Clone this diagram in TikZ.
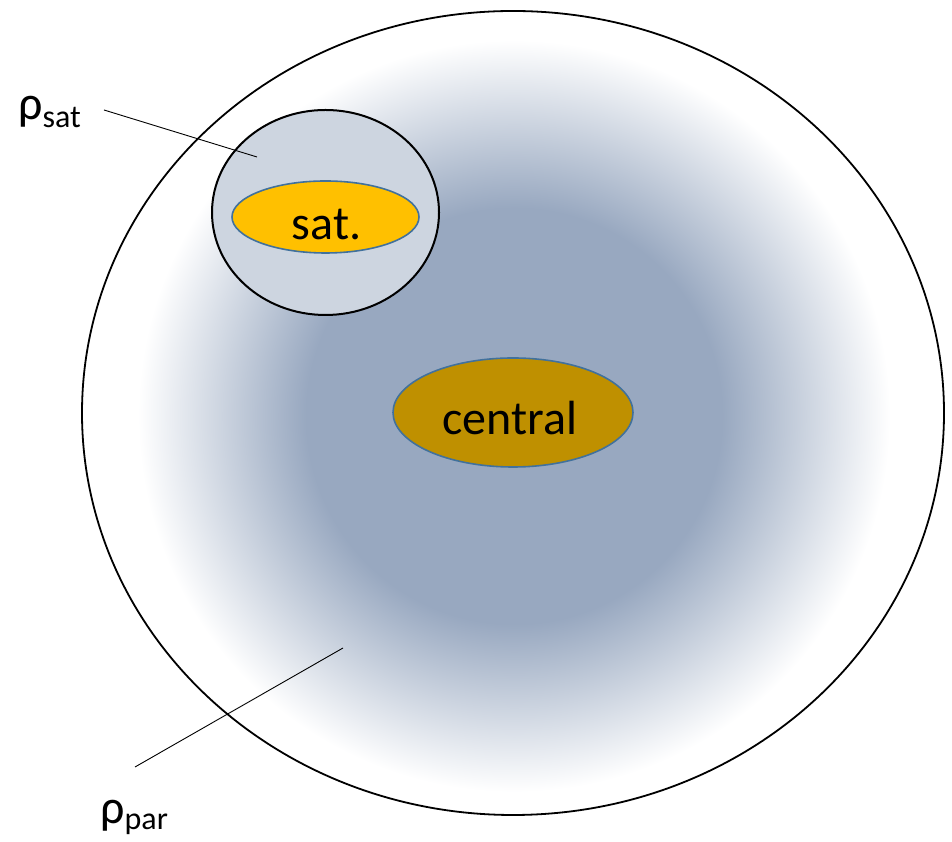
\documentclass[tikz,border=0pt]{standalone}
\usepackage{fontspec}
\setmainfont{Carlito}
\usetikzlibrary{shapes.geometric}
\definecolor{halocol}{RGB}{152,168,192}
\definecolor{satbg}{RGB}{205,213,224}
\definecolor{satfill}{RGB}{255,192,0}
\definecolor{cenfill}{RGB}{191,144,0}
\definecolor{rimblue}{RGB}{65,113,156}
\pgfdeclareradialshading{halo}{\pgfpoint{0bp}{0bp}}{color(0bp)=(halocol); color(13bp)=(halocol); color(23.5bp)=(white); color(50bp)=(white)}
\tikzset{
  bigfont/.style={font=\fontsize{48}{48}\selectfont},
  galaxy/.style={ellipse, draw=rimblue, line width=1.6pt, inner sep=0pt},
  leader/.style={draw=black, line width=0.9pt},
  txt/.style={inner sep=0pt, bigfont, text=black}
}
\begin{document}
\begin{tikzpicture}[x=1pt,y=1pt]
\useasboundingbox (0,0) rectangle (952,842);
% diffuse halo
\shade[shading=halo] (114,26) rectangle (914,826);
% parent halo boundary
\node[ellipse, draw=black, line width=1.8pt, inner sep=0pt, minimum width=862pt, minimum height=804pt] (parent) at (513,429) {};
% satellite halo
\node[ellipse, draw=black, fill=satbg, line width=2pt, inner sep=0pt, minimum width=227pt, minimum height=205pt] (subhalo) at (325.5,629.5) {};
% satellite galaxy
\node[galaxy, fill=satfill, minimum width=187pt, minimum height=72pt] (sat) at (325.5,625) {};
\node[txt, anchor=base] (sattxt) at ([xshift=1pt,yshift=-23pt]sat.center) {sat.};
% central galaxy
\node[galaxy, fill=cenfill, minimum width=240pt, minimum height=109pt] (cen) at (513,429.5) {};
\node[txt, anchor=base] (centxt) at ([xshift=-3pt,yshift=-22.5pt]cen.center) {central};
% labels
\node[inner sep=0pt, anchor=base west] (rhosat) at (18,722) {\fontsize{48}{48}\selectfont ρ\raisebox{-8pt}{\fontsize{32}{32}\selectfont sat}};
\node[inner sep=0pt, anchor=base west] (rhopar) at (100,18) {\fontsize{48}{48}\selectfont ρ\raisebox{-6pt}{\fontsize{32}{32}\selectfont par}};
% leader lines
\coordinate (s1) at (104,732);
\coordinate (s2) at (257,685);
\coordinate (p1) at (135,75);
\coordinate (p2) at (343,194);
\draw[leader] (s1) -- (s2);
\draw[leader] (p1) -- (p2);
\end{tikzpicture}
\end{document}
